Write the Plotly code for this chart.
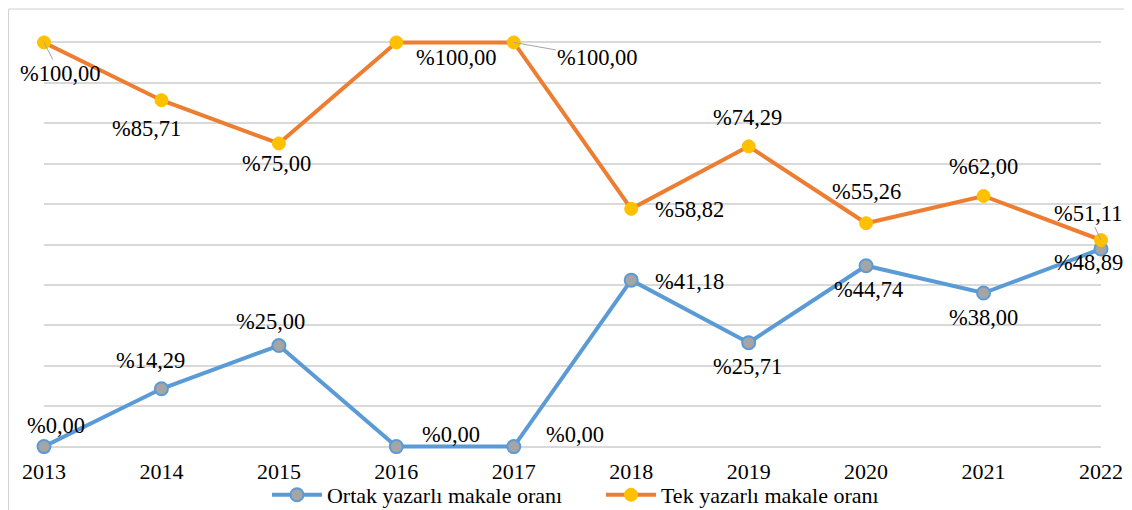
import plotly.graph_objects as go

years = [2013, 2014, 2015, 2016, 2017, 2018, 2019, 2020, 2021, 2022]
year_labels = [str(y) for y in years]
ortak = [0.00, 14.29, 25.00, 0.00, 0.00, 41.18, 25.71, 44.74, 38.00, 48.89]
tek = [100.00, 85.71, 75.00, 100.00, 100.00, 58.82, 74.29, 55.26, 62.00, 51.11]
series_names = ["Ortak yazarlı makale oranı", "Tek yazarlı makale oranı"]

# label placement offsets in pixels (dx right, dy down), and leader-line flags
tek_off = [(16, 31), (-15, 28), (-2, 20), (60, 15), (84, 15), (58, 1), (-1, -29), (0, -32), (0, -30), (-13, -27)]
tek_lead = [True, False, False, False, True, False, False, False, False, True]
ortak_off = [(12, -21), (-11, -28), (-8, -24), (55, -12), (61, -12), (58, 1), (-1, 24), (2, 24), (0, 24), (-13, 14)]
ortak_lead = [False, False, False, False, False, False, False, False, False, True]

FONT = "Liberation Serif"
BLUE = "#5B9BD5"
ORANGE = "#ED7D31"
YELLOW = "#FFC000"
GRAY = "#A5A5A5"
LSIZE = 22.5


def fmt(v):
    return "%" + f"{v:.2f}".replace(".", ",")


fig = go.Figure()
fig.add_trace(go.Scatter(
    x=years, y=ortak, name=series_names[0], mode="lines+markers",
    line=dict(color=BLUE, width=4),
    marker=dict(color=GRAY, size=13, line=dict(color=BLUE, width=2)),
    cliponaxis=False,
))
fig.add_trace(go.Scatter(
    x=years, y=tek, name=series_names[1], mode="lines+markers",
    line=dict(color=ORANGE, width=4),
    marker=dict(color=YELLOW, size=13, line=dict(color=YELLOW, width=1)),
    cliponaxis=False,
))

annotations = []
for vals, offs, leads in [(tek, tek_off, tek_lead), (ortak, ortak_off, ortak_lead)]:
    for x, v, (dx, dy), lead in zip(years, vals, offs, leads):
        if lead:
            annotations.append(dict(
                x=x, y=v, xref="x", yref="y", text=fmt(v), showarrow=True,
                ax=dx, ay=dy, arrowhead=0, arrowwidth=1, arrowcolor=GRAY,
                standoff=0, font=dict(family=FONT, size=LSIZE, color="#000000"),
            ))
        else:
            annotations.append(dict(
                x=x, y=v, xref="x", yref="y", text=fmt(v), showarrow=False,
                xshift=dx, yshift=-dy, font=dict(family=FONT, size=LSIZE, color="#000000"),
            ))

# page body has an 8px margin, so the figure is sized/offset to compensate
fig.update_layout(
    width=1124, height=502,
    margin=dict(l=36, r=31, t=32, b=61, autoexpand=False),
    paper_bgcolor="white", plot_bgcolor="white",
    font=dict(family=FONT, size=22, color="#000000"),
    showlegend=True,
    legend=dict(orientation="h", xref="container", yref="container",
                x=0.2304, xanchor="left", y=0.03, yanchor="middle",
                itemwidth=50, entrywidth=269,
                font=dict(family=FONT, size=22, color="#000000"), bgcolor="rgba(0,0,0,0)"),
    annotations=annotations,
    xaxis=dict(range=[2013, 2022], tickvals=years, ticktext=year_labels, automargin=False,
               showgrid=False, zeroline=False, showline=False,
               ticks="outside", ticklen=3, tickcolor="rgba(0,0,0,0)",
               tickfont=dict(family=FONT, size=22, color="#000000")),
    yaxis=dict(range=[-0.6, 100.6], tickvals=[0, 10, 20, 30, 40, 50, 60, 70, 80, 90, 100],
               showticklabels=False, automargin=False,
               showgrid=True, gridcolor="#D9D9D9", gridwidth=1.5, zeroline=False, showline=False),
    shapes=[
        dict(type="line", xref="paper", yref="paper", x0=-0.0335, x1=-0.0335, y0=-0.2, y1=1.0758,
             line=dict(color="#D0D0D0", width=1)),
        dict(type="line", xref="paper", yref="paper", x0=-0.0335, x1=1.05, y0=1.0758, y1=1.0758,
             line=dict(color="#D0D0D0", width=1)),
    ],
)

fig.write_html("out.html")
